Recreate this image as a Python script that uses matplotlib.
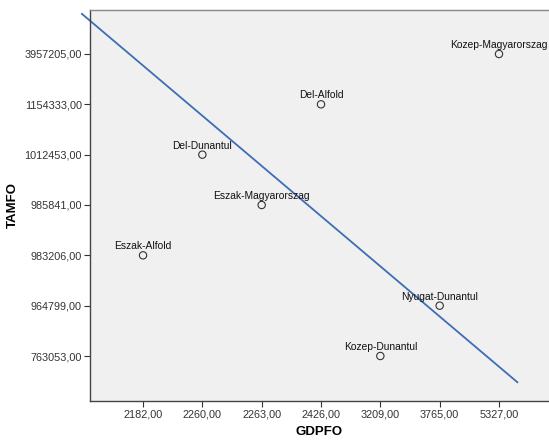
import matplotlib
matplotlib.use("Agg")
import matplotlib.pyplot as plt

# Data
regions = ["Eszak-Alfold", "Del-Dunantul", "Eszak-Magyarorszag", "Del-Alfold",
           "Kozep-Dunantul", "Nyugat-Dunantul", "Kozep-Magyarorszag"]
gdpfo = [2182, 2260, 2263, 2426, 3209, 3765, 5327]
tamfo = [983206, 1012453, 985841, 1154333, 763053, 964799, 3957205]

# Fit line (in category-position units, as drawn in the reference)
fit_intercept = 5.77
fit_slope = -0.997
fit_x_range = [-1.03, 6.31]

plt.rcParams['font.family'] = ['Liberation Sans', 'DejaVu Sans']

x_cats = sorted(set(gdpfo))
y_cats = sorted(set(tamfo))
xpos = [x_cats.index(v) for v in gdpfo]
ypos = [y_cats.index(v) for v in tamfo]

fig = plt.figure(figsize=(5.49, 4.41), dpi=100)
ax = fig.add_axes([90/549, 1-401/441, 1-90/549, (401-10)/441])
ax.set_facecolor('#F0F0F0')

ax.set_xlim(-0.894, 6.843)
ax.set_ylim(-0.894, 6.874)

ax.scatter(xpos, ypos, s=28, facecolors='none', edgecolors='#333333', linewidths=0.8, zorder=3)
for xp, yp, name in zip(xpos, ypos, regions):
    ax.annotate(name, (xp, yp), xytext=(0, 4.4), textcoords='offset points',
                ha='center', va='baseline', fontsize=7.4, color='#111111',
                annotation_clip=False, zorder=4)

fx = fit_x_range
fy = [fit_intercept + fit_slope * v for v in fx]
ax.plot(fx, fy, color='#3D6DB5', linewidth=1.3, clip_on=False, zorder=2)

ax.set_xticks(range(len(x_cats)))
ax.set_xticklabels([f"{v:.2f}".replace('.', ',') for v in x_cats])
ax.set_yticks(range(len(y_cats)))
ax.set_yticklabels([f"{v:.2f}".replace('.', ',') for v in y_cats])
ax.tick_params(axis='both', direction='out', length=4, width=0.8, color='#333333',
               labelsize=7.8, labelcolor='#333333', pad=2)

for side in ['left', 'bottom']:
    ax.spines[side].set_color('#444444')
    ax.spines[side].set_linewidth(1.0)
ax.spines['top'].set_color('#888888')
ax.spines['top'].set_linewidth(1.0)
ax.spines['right'].set_visible(False)

ax.set_xlabel('GDPFO', fontsize=9.5, fontweight='bold', labelpad=5)
ax.set_ylabel('TAMFO', fontsize=9.5, fontweight='bold', labelpad=4)

fig.savefig('out.png', dpi=100)
